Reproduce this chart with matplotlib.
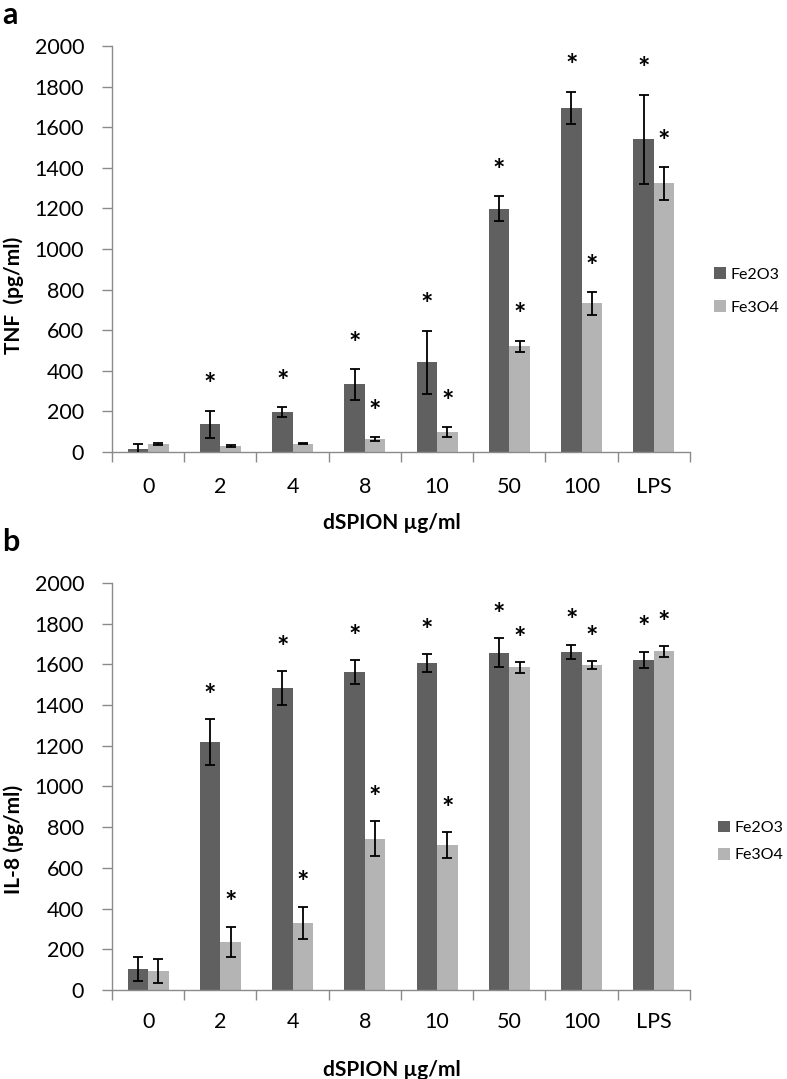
import numpy as np
import matplotlib.pyplot as plt

plt.rcParams['font.family'] = ['Lato', 'DejaVu Sans']

# doses on the x axis
doses = ['0', '2', '4', '8', '10', '50', '100', 'LPS']

# panel a - TNF (pg/ml)
tnf_fe2o3 = [13, 136, 197, 333, 442, 1199, 1695, 1540]
tnf_fe2o3_err = [25, 68, 25, 75, 156, 62, 80, 220]
tnf_fe3o4 = [40, 30, 41, 62, 97, 521, 732, 1323]
tnf_fe3o4_err = [5, 4, 3, 10, 25, 28, 55, 80]
tnf_fe2o3_sig = [0, 1, 1, 1, 1, 1, 1, 1]
tnf_fe3o4_sig = [0, 0, 0, 1, 1, 1, 1, 1]

# panel b - IL-8 (pg/ml)
il8_fe2o3 = [103, 1219, 1484, 1564, 1606, 1658, 1660, 1621]
il8_fe2o3_err = [58, 111, 82, 58, 43, 71, 36, 41]
il8_fe3o4 = [94, 237, 330, 744, 712, 1585, 1598, 1664]
il8_fe3o4_err = [58, 73, 79, 86, 64, 25, 19, 26]
il8_fe2o3_sig = [0, 1, 1, 1, 1, 1, 1, 1]
il8_fe3o4_sig = [0, 1, 1, 1, 1, 1, 1, 1]

dark = '#606060'
light = '#b4b4b4'
axis_col = '#8a8a8a'

fig = plt.figure(figsize=(7.87, 10.79), dpi=100)
ax_a = fig.add_axes([0.1423, 0.5811, 0.7344, 0.3763])
ax_b = fig.add_axes([0.1423, 0.0825, 0.7344, 0.3772])


def panel(ax, v1, e1, s1, v2, e2, s2, star_off, xpad):
    x = np.arange(len(doses))
    w = 0.284
    ax.bar(x - w/2, v1, w, color=dark, label='Fe2O3', zorder=2)
    ax.bar(x + w/2, v2, w, color=light, label='Fe3O4', zorder=2)
    ax.errorbar(x - w/2, v1, yerr=e1, fmt='none', ecolor='black',
                elinewidth=1.3, capsize=3.6, capthick=1.3, zorder=3)
    ax.errorbar(x + w/2, v2, yerr=e2, fmt='none', ecolor='black',
                elinewidth=1.3, capsize=3.6, capthick=1.3, zorder=3)
    for i in range(len(doses)):
        if s1[i]:
            ax.text(x[i] - w/2, v1[i] + e1[i] + star_off, '*', ha='center',
                    va='center', fontsize=21, fontweight='bold')
        if s2[i]:
            ax.text(x[i] + w/2, v2[i] + e2[i] + star_off, '*', ha='center',
                    va='center', fontsize=21, fontweight='bold')
    ax.set_xlim(-0.5, len(doses) - 0.5)
    ax.set_ylim(0, 2000)
    ax.set_yticks(np.arange(0, 2001, 200))
    ax.set_xticks(np.arange(-0.5, len(doses), 1.0))
    ax.set_xticklabels([])
    ax.set_xticks(x, minor=True)
    ax.set_xticklabels(doses, minor=True)
    ax.tick_params(axis='x', which='major', length=7, width=1.0, color=axis_col, direction='out')
    ax.tick_params(axis='x', which='minor', length=0, pad=xpad, labelsize=15.5)
    ax.tick_params(axis='y', length=7, width=1.0, color=axis_col, pad=13, labelsize=15.5)
    for s in ['top', 'right']:
        ax.spines[s].set_visible(False)
    for s in ['left', 'bottom']:
        ax.spines[s].set_color(axis_col)
        ax.spines[s].set_linewidth(1.0)


panel(ax_a, tnf_fe2o3, tnf_fe2o3_err, tnf_fe2o3_sig,
      tnf_fe3o4, tnf_fe3o4_err, tnf_fe3o4_sig, 125, 18)
panel(ax_b, il8_fe2o3, il8_fe2o3_err, il8_fe2o3_sig,
      il8_fe3o4, il8_fe3o4_err, il8_fe3o4_sig, 115, 16)

leg_kw = dict(loc='center left', frameon=False, fontsize=11.5, handlelength=0.75,
              handleheight=0.75, handletextpad=0.3, borderpad=0, borderaxespad=0)
ax_a.legend(bbox_to_anchor=(0.907, 0.7303), bbox_transform=fig.transFigure,
            labelspacing=1.15, **leg_kw)
ax_b.legend(bbox_to_anchor=(0.912, 0.2201), bbox_transform=fig.transFigure,
            labelspacing=0.8, **leg_kw)

fig.text(0.0172, 0.7266, 'TNF  (pg/ml)', rotation=90, ha='center', va='center',
         fontsize=15, fontweight='bold')
fig.text(0.0172, 0.2224, 'IL-8 (pg/ml)', rotation=90, ha='center', va='center',
         fontsize=15, fontweight='bold')
fig.text(0.498, 0.5153, 'dSPION µg/ml', ha='center', va='center',
         fontsize=15, fontweight='bold')
fig.text(0.498, 0.0083, 'dSPION µg/ml', ha='center', va='center',
         fontsize=15, fontweight='bold')
fig.text(0.003, 0.999, 'a', ha='left', va='top', fontsize=22, fontweight='bold')
fig.text(0.003, 0.5107, 'b', ha='left', va='top', fontsize=22, fontweight='bold')

fig.savefig('out.png', dpi=100)
